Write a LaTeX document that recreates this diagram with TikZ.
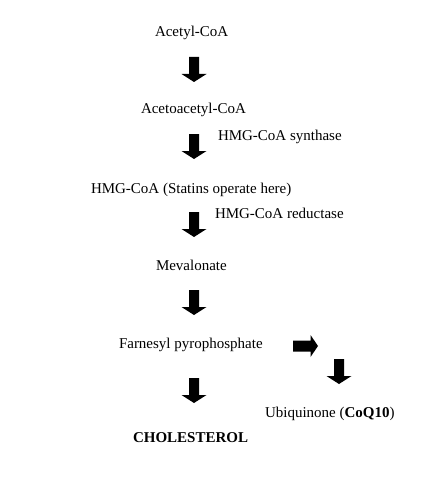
\documentclass[tikz,border=0pt]{standalone}
\usepackage{fontspec}
\setmainfont{Liberation Serif}
\begin{document}
\begin{tikzpicture}[x=1pt,y=1pt,
  lbl/.style={anchor=base west,inner sep=0pt,outer sep=0pt,font=\fontsize{15}{18}\selectfont},
  downarrow/.pic={\fill[black] (-5,0) -- (5,0) -- (5,-17) -- (12.5,-17) -- (0,-25) -- (-12.5,-17) -- (-5,-17) -- cycle;},
  rightarrow/.pic={\fill[black] (0,5.5) -- (17.5,5.5) -- (17.5,11) -- (25,0) -- (17.5,-11) -- (17.5,-5.5) -- (0,-5.5) -- cycle;}
]
\useasboundingbox[fill=white] (0,0) rectangle (423,-484);
\node[lbl] (acetyl) at (155,-37) {Acetyl-CoA};
\node[lbl] (acetoacetyl) at (141,-113.5) {Acetoacetyl-CoA};
\node[lbl] (synthase) at (218,-140) {HMG-CoA synthase};
\node[lbl] (hmgcoa) at (91,-193) {HMG-CoA (Statins operate here)};
\node[lbl] (reductase) at (215,-218) {HMG-CoA reductase};
\node[lbl] (mevalonate) at (156,-270) {Mevalonate};
\node[lbl] (farnesyl) at (119,-348) {Farnesyl pyrophosphate};
\node[lbl] (ubiquinone) at (265,-417) {Ubiquinone (\textbf{CoQ10})};
\node[lbl] (cholesterol) at (133,-442) {\textbf{CHOLESTEROL}};
\pic (a1) at (194,-57) {downarrow};
\pic (a2) at (194,-134) {downarrow};
\pic (a3) at (194,-212) {downarrow};
\pic (a4) at (194,-290) {downarrow};
\pic (a5) at (194,-378) {downarrow};
\pic (a6) at (293,-346) {rightarrow};
\pic (a7) at (339,-359) {downarrow};
\end{tikzpicture}
\end{document}
